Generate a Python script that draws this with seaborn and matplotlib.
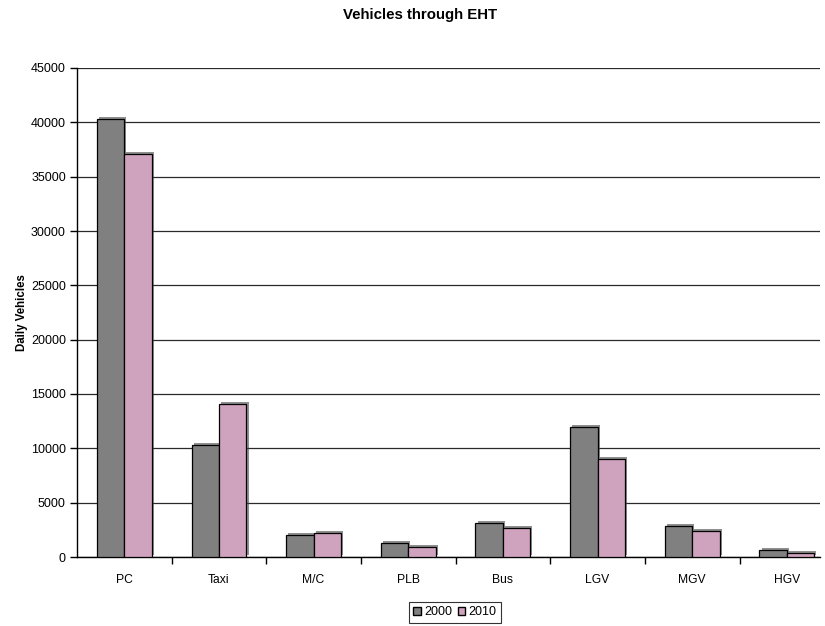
import pandas as pd
import matplotlib
matplotlib.use('Agg')
import matplotlib.pyplot as plt
import matplotlib.patheffects as pe
import seaborn as sns

categories = ['PC', 'Taxi', 'M/C', 'PLB', 'Bus', 'LGV', 'MGV', 'HGV']
years = ['2000', '2010']
vehicles_2000 = [40300, 10300, 2020, 1260, 3130, 11930, 2880, 600]
vehicles_2010 = [37080, 14080, 2200, 950, 2670, 9040, 2420, 350]

df = pd.DataFrame({
    'Category': categories * 2,
    'Year': [years[0]] * len(categories) + [years[1]] * len(categories),
    'Vehicles': vehicles_2000 + vehicles_2010,
})

sns.set_style('white')
plt.rcParams['font.family'] = ['Liberation Sans', 'DejaVu Sans']
plt.rcParams['text.color'] = 'black'
plt.rcParams['xtick.color'] = 'black'
plt.rcParams['ytick.color'] = 'black'
plt.rcParams['axes.labelcolor'] = 'black'

fig = plt.figure(figsize=(8.25, 6.26), dpi=100)
ax = fig.add_axes([77 / 825, 1 - 557 / 626, (820 - 77) / 825, (557 - 68) / 626])

palette = {'2000': '#808080', '2010': '#CFA2BE'}
sns.barplot(data=df, x='Category', y='Vehicles', hue='Year', order=categories,
            hue_order=years, palette=palette, width=0.58, edgecolor='black',
            linewidth=0.9, saturation=1, ax=ax, zorder=3)

for p in ax.patches:
    p.set_path_effects([pe.SimplePatchShadow(offset=(1.5, 1.5), shadow_rgbFace='#444444', alpha=0.6),
                        pe.Normal()])

ax.set_ylim(0, 45000)
ax.set_xlim(-0.5, 7.35)
ax.set_yticks(range(0, 45001, 5000))
ax.yaxis.grid(True, color='#2a2a2a', linewidth=0.9, zorder=0)
ax.xaxis.grid(False)
ax.set_axisbelow(True)

for side in ['top', 'right']:
    ax.spines[side].set_visible(False)
for side in ['left', 'bottom']:
    ax.spines[side].set_color('black')
    ax.spines[side].set_linewidth(1)

ax.tick_params(axis='y', which='major', left=True, direction='out', length=5,
               width=1, color='black', labelsize=9, pad=3)
ax.tick_params(axis='x', which='major', bottom=False, labelsize=8.7, pad=8.5)
ax.set_xticks([i + 0.5 for i in range(len(categories) - 1)], minor=True)
ax.tick_params(axis='x', which='minor', bottom=True, direction='out', length=5,
               width=1, color='black')

ax.set_xlabel('')
ax.set_ylabel('Daily Vehicles', fontsize=8.3, fontweight='bold', labelpad=2)
fig.text(420 / 825, 1 - 15 / 626, 'Vehicles through EHT', ha='center', va='center',
         fontsize=10.8, fontweight='bold')

ax.get_legend().remove()
handles = [plt.Rectangle((0, 0), 1, 1, facecolor=palette[y], edgecolor='black', linewidth=1)
           for y in years]
leg = fig.legend(handles, years, loc='upper center', bbox_to_anchor=(455 / 825, 1 - 602 / 626),
                 ncol=2, fontsize=9, frameon=True, fancybox=False, handlelength=0.6,
                 handleheight=0.6, handletextpad=0.3, columnspacing=0.4,
                 borderpad=0.35, borderaxespad=0)
leg.get_frame().set_edgecolor('black')
leg.get_frame().set_linewidth(0.8)

fig.savefig('out.png', dpi=100)
